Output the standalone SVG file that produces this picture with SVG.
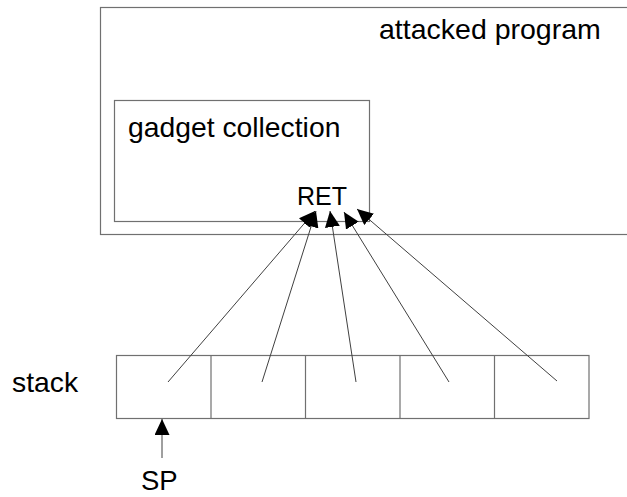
<svg xmlns="http://www.w3.org/2000/svg" width="627" height="497" viewBox="0 0 627 497">
  <style>
    .box { fill: none; stroke: #707070; stroke-width: 1.2; }
    .lbl { font-family: "Liberation Sans", Arial, sans-serif; fill: #000; }
    .link { stroke: #404040; stroke-width: 1; fill: none; marker-end: url(#head); }
  </style>
  <defs>
    <marker id="head" viewBox="0 0 16 15" refX="16" refY="7.5" markerWidth="16" markerHeight="15" markerUnits="userSpaceOnUse" orient="auto">
      <path d="M0,0 L16,7.5 L0,15 Z" fill="#000"/>
    </marker>
  </defs>
  <rect width="627" height="497" fill="#fff"/>

  <g id="attacked-program">
    <rect class="box" x="100.5" y="7.5" width="540" height="227"/>
    <text class="lbl" x="379" y="39" font-size="28.5">attacked program</text>
  </g>

  <g id="gadget-collection">
    <rect class="box" x="114.5" y="100.5" width="255" height="121"/>
    <text class="lbl" x="128" y="137" font-size="28.3">gadget collection</text>
    <text class="lbl" x="297" y="205" font-size="25">RET</text>
  </g>

  <g id="stack">
    <text class="lbl" x="12" y="392" font-size="28.3">stack</text>
    <rect class="box" x="116.5" y="355.5" width="472.5" height="63"/>
    <line class="box" x1="211" y1="355.5" x2="211" y2="418.5"/>
    <line class="box" x1="305.5" y1="355.5" x2="305.5" y2="418.5"/>
    <line class="box" x1="400" y1="355.5" x2="400" y2="418.5"/>
    <line class="box" x1="494.5" y1="355.5" x2="494.5" y2="418.5"/>
  </g>

  <g id="sp">
    <text class="lbl" x="141" y="490" font-size="27.5">SP</text>
  </g>

  <g id="connectors">
    <line class="link" x1="168" y1="382" x2="315" y2="211"/>
    <line class="link" x1="262" y1="382" x2="316" y2="211"/>
    <line class="link" x1="356" y1="382" x2="330" y2="211"/>
    <line class="link" x1="449" y1="382" x2="344" y2="212"/>
    <line class="link" x1="557" y1="381" x2="357" y2="209"/>
    <line class="link" x1="162" y1="458" x2="162" y2="419"/>
  </g>
</svg>
